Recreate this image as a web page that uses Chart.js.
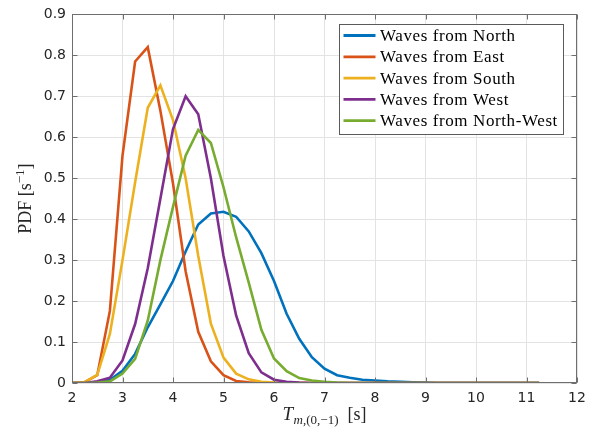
<!DOCTYPE html>
<html>
<head>
<meta charset="utf-8">
<script src="https://cdn.jsdelivr.net/npm/chart.js@4/dist/chart.umd.min.js"></script>
<style>
  html, body { margin: 0; padding: 0; background: #fff; }
  #wrap { width: 598px; height: 431px; position: relative; }
</style>
</head>
<body>
<div id="wrap"><canvas id="c" width="598" height="431"></canvas></div>
<script>
// ---- Data ----
const periods = [2, 2.25, 2.5, 2.75, 3, 3.25, 3.5, 3.75, 4, 4.25, 4.5, 4.75, 5, 5.25, 5.5, 5.75,
  6, 6.25, 6.5, 6.75, 7, 7.25, 7.5, 7.75, 8, 8.25, 8.5, 8.75, 9, 9.25, 9.5, 9.75,
  10, 10.25, 10.5, 10.75, 11, 11.25];

const seriesNames = ['Waves from North', 'Waves from East', 'Waves from South', 'Waves from West', 'Waves from North-West'];

const pdfNorth = [0, 0, 0.002, 0.008, 0.03, 0.071, 0.136, 0.192, 0.249, 0.321, 0.387, 0.414, 0.418, 0.406, 0.37, 0.317,
  0.249, 0.169, 0.108, 0.063, 0.035, 0.019, 0.013, 0.008, 0.006, 0.004, 0.003, 0.002, 0.001, 0, 0, 0,
  0, 0, 0, 0, 0, 0];
const pdfEast = [0, 0.002, 0.019, 0.176, 0.555, 0.785, 0.82, 0.665, 0.487, 0.273, 0.125, 0.053, 0.019, 0.005, 0.002, 0.001,
  0, 0, 0, 0, 0, 0, 0, 0, 0, 0, 0, 0, 0, 0, 0, 0,
  0, 0, 0, 0, 0, 0];
const pdfSouth = [0, 0.002, 0.02, 0.12, 0.30, 0.49, 0.672, 0.727, 0.642, 0.50, 0.31, 0.145, 0.062, 0.023, 0.009, 0.003,
  0.001, 0, 0, 0, 0, 0, 0, 0, 0, 0, 0, 0, 0, 0, 0, 0,
  0, 0, 0, 0, 0, 0];
const pdfWest = [0, 0, 0.004, 0.013, 0.055, 0.144, 0.28, 0.45, 0.62, 0.70, 0.656, 0.50, 0.31, 0.165, 0.073, 0.026,
  0.008, 0.003, 0.001, 0, 0, 0, 0, 0, 0, 0, 0, 0, 0, 0, 0, 0,
  0, 0, 0, 0, 0, 0];
const pdfNorthWest = [0, 0, 0.001, 0.004, 0.023, 0.059, 0.152, 0.30, 0.43, 0.555, 0.618, 0.586, 0.478, 0.356, 0.245, 0.13,
  0.06, 0.029, 0.012, 0.006, 0.003, 0.001, 0, 0, 0, 0, 0, 0, 0, 0, 0, 0,
  0, 0, 0, 0, 0, 0];

const xTicks = [2, 3, 4, 5, 6, 7, 8, 9, 10, 11, 12];
const yTicks = [0, 0.1, 0.2, 0.3, 0.4, 0.5, 0.6, 0.7, 0.8, 0.9];

const seriesColors = ['#0072BD', '#D95319', '#EDB120', '#7E2F8E', '#77AC30'];
const allSeries = [pdfNorth, pdfEast, pdfSouth, pdfWest, pdfNorthWest];

// ---- styling ----
const axisColor = '#6e6e6e';
const textColor = '#262626';
const gridColor = '#e3e3e3';
const serif = '"Liberation Serif", "Times New Roman", serif';

const datasets = allSeries.map((vals, i) => ({
  label: seriesNames[i],
  data: vals.map((v, k) => ({ x: periods[k], y: v })),
  borderColor: seriesColors[i],
  backgroundColor: seriesColors[i],
  borderWidth: 2.6,
  pointRadius: 0,
  tension: 0,
  fill: false,
  order: allSeries.length - i
}));

const decor = {
  id: 'decor',
  afterDraw(chart) {
    const { ctx, chartArea: a, scales } = chart;
    const L = Math.round(a.left) + 0.5, R = Math.round(a.right) - 0.5;
    const T = Math.round(a.top) + 0.5, B = Math.round(a.bottom) - 0.5;
    ctx.save();
    // inward tick marks on all four sides
    ctx.strokeStyle = axisColor;
    ctx.lineWidth = 1;
    ctx.beginPath();
    xTicks.forEach(v => {
      const px = Math.round(scales.x.getPixelForValue(v)) + 0.5;
      ctx.moveTo(px, B); ctx.lineTo(px, B - 5);
      ctx.moveTo(px, T); ctx.lineTo(px, T + 5);
    });
    yTicks.forEach(v => {
      const py = Math.round(scales.y.getPixelForValue(v)) + 0.5;
      ctx.moveTo(L, py); ctx.lineTo(L + 5, py);
      ctx.moveTo(R, py); ctx.lineTo(R - 5, py);
    });
    ctx.stroke();
    // box
    ctx.strokeRect(L, T, R - L, B - T);

    // legend
    const lx = 339.5, ly = 24.5, lw = 224, lh = 110;
    ctx.fillStyle = '#ffffff';
    ctx.fillRect(lx, ly, lw, lh);
    ctx.strokeStyle = '#5a5a5a';
    ctx.strokeRect(lx, ly, lw, lh);
    ctx.font = '17px ' + serif;
    ctx.textBaseline = 'middle';
    ctx.textAlign = 'left';
    chart.data.datasets.forEach((ds, i) => {
      const ry = 35.5 + i * 21.3;
      ctx.strokeStyle = ds.borderColor;
      ctx.lineWidth = 2.8;
      ctx.beginPath();
      ctx.moveTo(343.5, ry); ctx.lineTo(375.5, ry);
      ctx.stroke();
      ctx.fillStyle = '#000';
      if ('letterSpacing' in ctx) ctx.letterSpacing = '0.6px';
      ctx.fillText(ds.label, 380, ry + 1);
      if ('letterSpacing' in ctx) ctx.letterSpacing = '0px';
    });

    // x axis title: T_{m,(0,-1)} [s]
    ctx.fillStyle = textColor;
    ctx.textBaseline = 'alphabetic';
    const fBig = '18px ' + serif, fBigIt = 'italic 19px ' + serif;
    const fSub = '13px ' + serif, fSubIt = 'italic 13px ' + serif;
    const parts = [
      { t: 'T', f: fBigIt, dy: 0, gap: 0.5 },
      { t: 'm', f: fSubIt, dy: 4, gap: 0 },
      { t: ',(0,\u22121)', f: fSub, dy: 4, gap: 9 },
      { t: '[s]', f: fBig, dy: 0, gap: 0 }
    ];
    let total = 0;
    parts.forEach(p => { ctx.font = p.f; p.w = ctx.measureText(p.t).width; total += p.w + p.gap; });
    let cx = (a.left + a.right) / 2 - total / 2;
    const base = 420;
    parts.forEach(p => { ctx.font = p.f; ctx.fillText(p.t, cx, base + p.dy); cx += p.w + p.gap; });

    // y axis title: PDF [s^{-1}]
    ctx.save();
    ctx.translate(31, (a.top + a.bottom) / 2);
    ctx.rotate(-Math.PI / 2);
    const yparts = [
      { t: 'PDF [s', f: fBig, dy: 0 },
      { t: '\u22121', f: fSub, dy: -7 },
      { t: ']', f: fBig, dy: 0 }
    ];
    let ytot = 0;
    yparts.forEach(p => { ctx.font = p.f; p.w = ctx.measureText(p.t).width; ytot += p.w; });
    let yx = -ytot / 2;
    yparts.forEach(p => { ctx.font = p.f; ctx.fillText(p.t, yx, p.dy); yx += p.w; });
    ctx.restore();

    ctx.restore();
  }
};

new Chart(document.getElementById('c'), {
  type: 'line',
  data: { datasets },
  options: {
    responsive: false,
    animation: false,
    events: [],
    layout: { padding: { left: 0, right: 21, top: 12, bottom: 0 } },
    plugins: { legend: { display: false }, tooltip: { enabled: false }, title: { display: false } },
    scales: {
      x: {
        type: 'linear',
        min: 2, max: 12,
        afterFit(s) { s.height = 48; },
        afterBuildTicks(s) { s.ticks = xTicks.map(v => ({ value: v })); },
        grid: { color: gridColor, drawTicks: false },
        border: { display: false },
        ticks: { color: textColor, font: { family: '"DejaVu Sans", sans-serif', size: 14 }, padding: 7, maxRotation: 0 }
      },
      y: {
        type: 'linear',
        min: 0, max: 0.9,
        afterFit(s) { s.width = 72; },
        afterBuildTicks(s) { s.ticks = yTicks.map(v => ({ value: v })); },
        grid: { color: gridColor, drawTicks: false },
        border: { display: false },
        ticks: { color: textColor, font: { family: '"DejaVu Sans", sans-serif', size: 14 }, padding: 6,
          callback: v => String(Math.round(v * 10) / 10) }
      }
    }
  },
  plugins: [decor]
});
</script>
</body>
</html>
